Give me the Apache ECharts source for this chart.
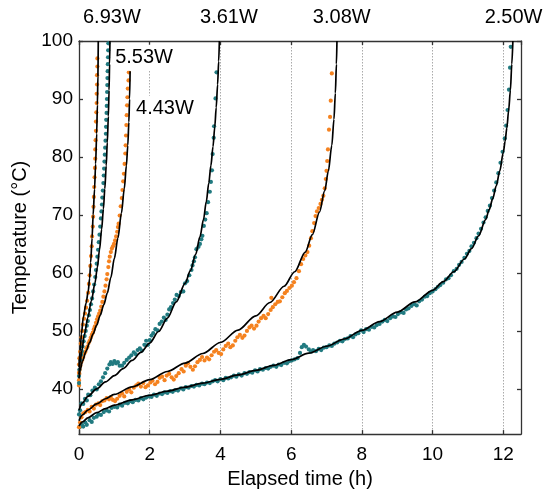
<!DOCTYPE html>
<html><head><meta charset="utf-8">
<script src="https://cdn.jsdelivr.net/npm/echarts@6/dist/echarts.min.js"></script>
<style>html,body{margin:0;padding:0;background:#fff}#c{width:546px;height:494px}</style>
</head><body><div id="c"></div>
<script>
// ---- data (hours, °C) ----
const xTicks = [0, 2, 4, 6, 8, 10, 12];
const yTicks = [40, 50, 60, 70, 80, 90, 100];
const powerLabels = ['6.93W', '3.61W', '3.08W', '2.50W', '5.53W', '4.43W'];

const fit693 = [[0,43.8],[0.03,46.5],[0.07,49.5],[0.12,52.3],[0.2,54.8],[0.26,56.8],[0.3,59],[0.33,61.8],[0.37,66],[0.4,70],[0.44,74.5],[0.47,78.8],[0.5,84],[0.52,89],[0.535,94],[0.545,100]];
const fit553 = [[0,42.5],[0.03,44.5],[0.08,46.6],[0.15,49.3],[0.25,52.3],[0.35,55.2],[0.45,58.2],[0.52,61],[0.58,64],[0.64,67.5],[0.69,71],[0.73,74.5],[0.77,78.5],[0.8,82.5],[0.83,87],[0.85,91.5],[0.865,96],[0.875,100]];
const fit443 = [[0,41.8],[0.03,43.2],[0.1,44.8],[0.2,46.5],[0.3,48],[0.4,49.5],[0.5,51],[0.6,52.7],[0.7,54.5],[0.8,56.5],[0.9,59.2],[1.0,62.5],[1.1,66],[1.2,70.3],[1.28,74.5],[1.34,78.5],[1.38,82],[1.41,86],[1.43,90],[1.445,94.8]];
const fit361 = [[0,36.3],[0.1,37.6],[0.25,38.7],[0.5,40.0],[0.75,41.2],[1,42.3],[1.25,43.5],[1.5,44.9],[1.75,46.3],[2,47.9],[2.25,49.9],[2.5,52.2],[2.75,55],[3,58.2],[3.15,60.4],[3.3,63.2],[3.42,66.2],[3.52,69.2],[3.6,72.3],[3.67,75.5],[3.73,78.5],[3.79,81.8],[3.84,85.2],[3.88,88.5],[3.92,92.5],[3.95,96.5],[3.97,100]];
const fit308 = [[0,34.5],[0.1,35.5],[0.25,36.35],[0.5,37.4],[0.75,38.3],[1,39.05],[1.5,40.35],[2,41.6],[2.5,43],[3,44.45],[3.5,46.1],[4,48],[4.5,50.15],[5,52.6],[5.4,54.9],[5.8,57.7],[6.1,60.2],[6.4,63.6],[6.6,66.6],[6.8,70.5],[6.95,74.2],[7.05,77.5],[7.15,82],[7.21,86.5],[7.25,91],[7.28,96],[7.295,100]];
const fit250 = [[0,33.6],[0.1,34.3],[0.25,35.0],[0.5,35.9],[0.75,36.6],[1,37.2],[1.5,38.1],[2,38.9],[2.5,39.6],[3,40.3],[3.5,41],[4,41.65],[4.5,42.4],[5,43.2],[5.5,44.05],[6,45.05],[6.5,46.15],[7,47.35],[7.5,48.6],[8,50.1],[8.5,51.6],[9,53.25],[9.5,55],[10,57],[10.3,58.5],[10.6,60.2],[10.9,62.4],[11.1,64.2],[11.3,66.4],[11.5,69.2],[11.6,70.9],[11.7,72.8],[11.8,75],[11.9,77.6],[12,80.8],[12.05,82.7],[12.1,85],[12.15,88],[12.2,91.5],[12.24,96],[12.27,100]];

const dots693 = [[0.0,42.8],[0.0,44.2],[0.01,45.3],[0.03,46.4],[0.05,47.8],[0.07,48.9],[0.09,50.0],[0.11,51.1],[0.14,52.1],[0.17,53.0],[0.2,54.0],[0.23,55.2],[0.26,56.6],[0.28,58.1],[0.3,59.6],[0.32,61.2],[0.34,62.9],[0.36,64.6],[0.37,66.3],[0.39,68.0],[0.4,69.7],[0.41,71.4],[0.42,73.1],[0.43,74.8],[0.44,76.5],[0.45,78.1],[0.46,79.7],[0.46,81.3],[0.47,82.9],[0.48,84.5],[0.48,86.1],[0.49,87.7],[0.5,89.3],[0.5,90.9],[0.51,92.5],[0.51,94.1],[0.52,95.6],[0.52,97.0]];
const dots553 = [[0.0,41.0],[0.0,42.2],[0.01,43.3],[0.02,44.2],[0.04,45.0],[0.06,45.9],[0.08,46.5],[0.1,47.3],[0.13,48.2],[0.16,49.1],[0.19,50.0],[0.22,50.9],[0.25,51.7],[0.28,52.7],[0.31,53.6],[0.34,54.6],[0.37,55.6],[0.4,56.8],[0.43,58.0],[0.46,59.3],[0.48,60.5],[0.5,61.6],[0.52,62.8],[0.54,64.0],[0.56,65.3],[0.58,66.6],[0.6,68.0],[0.62,69.4],[0.635,70.6],[0.65,71.8],[0.66,73.0],[0.675,74.2],[0.69,75.5],[0.7,76.8],[0.71,78.0],[0.72,79.2],[0.73,80.4],[0.74,81.6],[0.75,82.8],[0.76,84.0],[0.765,85.2],[0.77,86.4],[0.78,87.6],[0.785,88.8],[0.79,90.0],[0.795,91.2],[0.8,92.4],[0.805,93.6],[0.81,94.8],[0.815,96.0],[0.82,97.2],[0.825,98.4],[0.83,99.6]];
const dots443 = [[0.0,40.6],[0.0,41.5],[0.01,42.6],[0.02,43.3],[0.04,44.0],[0.06,44.6],[0.09,45.0],[0.12,45.5],[0.15,46.1],[0.18,46.4],[0.21,47.0],[0.24,47.3],[0.27,47.9],[0.3,48.3],[0.33,48.8],[0.36,49.3],[0.39,49.7],[0.42,50.3],[0.45,50.8],[0.48,51.4],[0.51,52.0],[0.54,52.5],[0.57,53.0],[0.6,53.5],[0.63,54.2],[0.66,55.0],[0.69,55.9],[0.72,56.8],[0.75,57.8],[0.78,58.9],[0.8,59.8],[0.83,61.0],[0.85,62.0],[0.87,62.8],[0.9,63.6],[0.93,64.2],[0.96,64.6],[0.99,65.0],[1.02,65.6],[1.05,66.3],[1.08,67.1],[1.1,67.9],[1.12,68.5],[1.15,69.9],[1.18,71.5],[1.21,72.9],[1.23,74.3],[1.25,75.8],[1.27,77.1],[1.29,78.8],[1.31,80.6],[1.32,82.0],[1.33,83.7],[1.34,85.5],[1.35,87.2],[1.36,88.9],[1.37,90.3],[1.38,91.8],[1.4,93.2],[1.41,94.6]];
const dots361 = [[0.0,35.6],[0.03,36.3],[0.07,37.5],[0.12,37.4],[0.17,38.3],[0.22,38.0],[0.26,39.0],[0.32,38.9],[0.38,39.7],[0.45,40.2],[0.5,39.9],[0.56,40.8],[0.62,41.3],[0.68,42.0],[0.74,42.7],[0.8,43.5],[0.86,44.2],[0.9,44.6],[0.95,44.3],[1.0,44.8],[1.05,44.4],[1.1,44.6],[1.15,44.0],[1.22,44.0],[1.28,44.5],[1.35,45.0],[1.42,45.4],[1.48,45.8],[1.55,46.3],[1.6,46.0],[1.66,46.7],[1.72,47.0],[1.78,46.6],[1.85,47.6],[1.9,48.3],[1.95,47.6],[2.0,48.4],[2.05,49.2],[2.1,49.6],[2.16,50.3],[2.22,50.1],[2.28,51.2],[2.34,51.6],[2.4,52.3],[2.45,51.9],[2.5,52.8],[2.55,53.7],[2.6,54.1],[2.66,54.8],[2.71,55.4],[2.76,56.2],[2.82,56.0],[2.88,56.7],[2.95,56.8],[3.0,58.2],[3.06,58.6],[3.12,59.6],[3.18,60.5],[3.21,61.3],[3.25,62.0],[3.28,62.7],[3.32,64.1],[3.38,64.5],[3.42,65.0],[3.46,65.8],[3.49,66.4],[3.53,68.1],[3.57,69.2],[3.61,70.3],[3.65,72.2],[3.7,74.0],[3.73,75.7],[3.76,77.7],[3.78,80.5],[3.81,83.3],[3.82,85.3],[3.86,90.1],[3.89,94.6]];
const dots308 = [[0.0,33.4],[0.03,34.2],[0.07,35.1],[0.12,35.8],[0.18,36.0],[0.25,36.4],[0.3,36.1],[0.36,36.9],[0.42,36.6],[0.48,37.3],[0.55,37.5],[0.6,37.2],[0.66,37.9],[0.72,38.0],[0.78,38.4],[0.85,38.2],[0.9,38.6],[0.96,38.1],[1.02,37.9],[1.08,38.3],[1.15,38.8],[1.22,39.2],[1.28,38.7],[1.35,39.5],[1.42,39.9],[1.48,39.4],[1.55,40.2],[1.62,40.6],[1.68,40.9],[1.75,40.4],[1.82,41.0],[1.88,40.3],[1.95,40.6],[2.02,41.1],[2.08,41.4],[2.15,40.8],[2.22,41.2],[2.28,41.9],[2.35,42.1],[2.42,41.5],[2.48,42.3],[2.55,42.6],[2.62,42.0],[2.68,41.6],[2.75,42.2],[2.82,42.7],[2.9,43.4],[2.96,43.0],[3.02,44.0],[3.08,44.4],[3.15,43.8],[3.22,43.3],[3.28,43.9],[3.35,44.6],[3.42,45.0],[3.48,45.5],[3.55,44.9],[3.62,45.4],[3.68,45.1],[3.75,45.8],[3.82,46.4],[3.88,46.7],[3.95,46.2],[4.02,46.0],[4.08,46.8],[4.15,47.4],[4.22,47.8],[4.28,47.2],[4.35,47.5],[4.42,48.3],[4.48,48.9],[4.55,49.3],[4.62,48.8],[4.68,49.2],[4.75,50.0],[4.82,50.6],[4.88,50.9],[4.95,50.4],[5.02,50.9],[5.08,51.6],[5.15,52.2],[5.22,52.6],[5.28,52.2],[5.35,52.9],[5.42,53.6],[5.44,55.7],[5.48,54.1],[5.55,54.6],[5.62,55.0],[5.68,55.1],[5.75,55.8],[5.82,56.5],[5.88,56.9],[5.95,57.4],[6.02,57.8],[6.08,58.4],[6.15,59.1],[6.22,60.3],[6.28,61.5],[6.34,62.4],[6.4,63.0],[6.46,63.6],[6.51,64.7],[6.56,66.0],[6.6,67.2],[6.65,68.6],[6.69,69.8],[6.73,70.6],[6.78,71.2],[6.83,71.9],[6.87,72.6],[6.91,73.3],[6.95,74.6],[6.98,76.2],[7.0,77.6],[7.02,79.3],[7.04,81.3],[7.07,84.7],[7.1,86.9],[7.12,89.7],[7.15,94.4]];
const dots250 = [[0.02,33.4],[0.08,33.9],[0.12,33.5],[0.18,34.2],[0.22,33.8],[0.3,34.6],[0.36,34.3],[0.42,35.0],[0.5,35.2],[0.55,35.6],[0.62,35.5],[0.7,36.0],[0.78,36.3],[0.85,36.1],[0.92,36.7],[1.0,36.9],[1.08,36.8],[1.15,37.3],[1.22,37.1],[1.3,37.6],[1.38,37.5],[1.45,37.9],[1.52,37.7],[1.6,38.1],[1.68,38.0],[1.75,38.4],[1.82,38.2],[1.9,38.5],[1.98,38.7],[2.05,38.6],[2.12,39.0],[2.2,38.8],[2.28,39.2],[2.35,39.1],[2.42,39.4],[2.5,39.3],[2.58,39.6],[2.65,39.5],[2.72,39.8],[2.8,39.7],[2.88,40.1],[2.95,39.9],[3.02,40.3],[3.1,40.2],[3.18,40.5],[3.25,40.4],[3.32,40.7],[3.4,40.6],[3.48,40.9],[3.55,40.8],[3.62,41.1],[3.7,41.0],[3.78,41.3],[3.85,41.5],[3.92,41.3],[4.0,41.7],[4.08,41.5],[4.15,41.9],[4.22,41.8],[4.3,42.0],[4.38,42.3],[4.45,42.1],[4.52,42.5],[4.6,42.3],[4.68,42.7],[4.75,42.6],[4.82,42.9],[4.9,42.8],[4.98,43.2],[5.05,43.0],[5.12,43.4],[5.2,43.3],[5.28,43.6],[5.35,43.5],[5.42,43.8],[5.5,44.0],[5.58,43.8],[5.65,44.2],[5.72,44.1],[5.8,44.5],[5.88,44.4],[5.95,44.8],[6.02,44.9],[6.1,45.1],[6.18,45.3],[6.25,46.2],[6.3,47.2],[6.36,47.6],[6.42,47.3],[6.5,46.8],[6.56,46.4],[6.62,46.7],[6.7,46.5],[6.78,46.9],[6.85,46.7],[6.92,47.1],[7.0,47.2],[7.08,47.5],[7.15,47.4],[7.22,47.8],[7.3,48.0],[7.38,48.3],[7.45,48.2],[7.52,48.6],[7.6,48.7],[7.68,49.1],[7.75,48.9],[7.82,49.4],[7.9,49.6],[7.98,50.1],[8.05,49.8],[8.12,50.3],[8.2,50.2],[8.28,50.7],[8.35,50.6],[8.42,51.0],[8.5,51.2],[8.58,51.6],[8.65,51.9],[8.72,51.7],[8.8,52.2],[8.88,52.5],[8.95,52.4],[9.02,52.9],[9.1,53.2],[9.18,53.1],[9.25,53.7],[9.32,53.9],[9.4,54.3],[9.48,54.6],[9.55,54.4],[9.62,55.1],[9.7,55.4],[9.78,55.9],[9.85,56.0],[9.92,56.5],[10.0,56.8],[10.08,57.2],[10.15,57.6],[10.22,57.9],[10.3,58.3],[10.38,58.9],[10.45,59.1],[10.52,59.6],[10.6,60.3],[10.68,60.7],[10.75,61.4],[10.82,61.9],[10.9,62.6],[10.97,63.3],[11.04,63.8],[11.1,64.6],[11.17,65.2],[11.24,66.0],[11.3,66.8],[11.37,67.6],[11.44,68.7],[11.5,69.6],[11.56,70.7],[11.62,71.6],[11.68,72.9],[11.74,74.2],[11.8,75.6],[11.86,77.2],[11.92,79.0],[11.98,80.9],[12.04,83.2],[12.08,85.4],[12.12,88.1],[12.16,91.6],[12.19,95.4],[12.21,99.0]];

// ---- styling / layout ----
const ORANGE = '#F5821F', TEAL = '#217A80';
const FONT = '"Liberation Sans", Arial, Helvetica, sans-serif';
const annPos = [[0.93,104.05],[4.24,104.05],[7.43,104.05],[12.29,104.05],[1.84,97.1],[2.43,88.3]];

const chart = echarts.init(document.getElementById('c'), null, {renderer:'canvas'});
const dotSeries = (d, c) => ({type:'scatter', data:d, symbolSize:4.2, itemStyle:{color:c, opacity:1}, z:2, silent:true});
const fitSeries = d => ({type:'line', data:d, showSymbol:false, smooth:0.3, smoothMonotone:'x', lineStyle:{color:'#000', width:1.7}, z:4, silent:true});

const axisLine = {show:true, onZero:false, lineStyle:{color:'#333', width:1.3}};
const tickStyle = {color:'#333', width:1.3};

chart.setOption({
  animation:false,
  backgroundColor:'#fff',
  grid:{left:79, right:25, top:41, bottom:52, containLabel:false},
  xAxis:[
    {type:'value', min:0, max:12.5, interval:2, position:'bottom', axisLine:axisLine,
      axisTick:{show:true, inside:true, length:4, lineStyle:tickStyle},
      name:'Elapsed time (h)', nameLocation:'middle', nameGap:29,
      nameTextStyle:{fontSize:20, color:'#000', fontFamily:FONT},
      axisLabel:{fontSize:19, color:'#000', fontFamily:FONT, margin:11, showMaxLabel:false},
      splitLine:{show:true, lineStyle:{color:'#aaa', type:[1.5,1.5], width:1}}},
    {type:'value', min:0, max:12.5, interval:2, position:'top', axisLine:axisLine,
      axisTick:{show:true, inside:true, length:4, lineStyle:tickStyle},
      axisLabel:{show:false}, splitLine:{show:false}}
  ],
  yAxis:[
    {type:'value', min:32.2, max:100, position:'left', axisLine:axisLine,
      name:'Temperature (°C)', nameLocation:'middle', nameGap:46,
      nameTextStyle:{fontSize:20, color:'#000', fontFamily:FONT},
      axisTick:{show:true, inside:true, length:4, customValues:yTicks, lineStyle:tickStyle},
      axisLabel:{fontSize:19, color:'#000', fontFamily:FONT, margin:6, customValues:yTicks},
      splitLine:{show:false}},
    {type:'value', min:32.2, max:100, position:'right', axisLine:axisLine,
      axisTick:{show:true, inside:true, length:4, customValues:yTicks, lineStyle:tickStyle},
      axisLabel:{show:false, customValues:yTicks}, splitLine:{show:false}}
  ],
  series:[
    dotSeries(dots250, TEAL), dotSeries(dots308, ORANGE), dotSeries(dots361, TEAL),
    dotSeries(dots443, ORANGE), dotSeries(dots553, TEAL), dotSeries(dots693, ORANGE),
    fitSeries(fit250), fitSeries(fit308), fitSeries(fit361),
    fitSeries(fit443), fitSeries(fit553), fitSeries(fit693),
    {type:'scatter', symbolSize:0, clip:false, z:6, silent:true,
      data: powerLabels.map((t,i)=>({name:t, value:annPos[i],
        label:{show:true, position:'inside', formatter:'{b}', fontSize:20, color:'#000', opacity:1,
          fontFamily:FONT, textBorderWidth:0,
          backgroundColor: i>=4 ? '#fff' : 'transparent', padding:[3,2]}}))}
  ]
});
</script></body></html>
